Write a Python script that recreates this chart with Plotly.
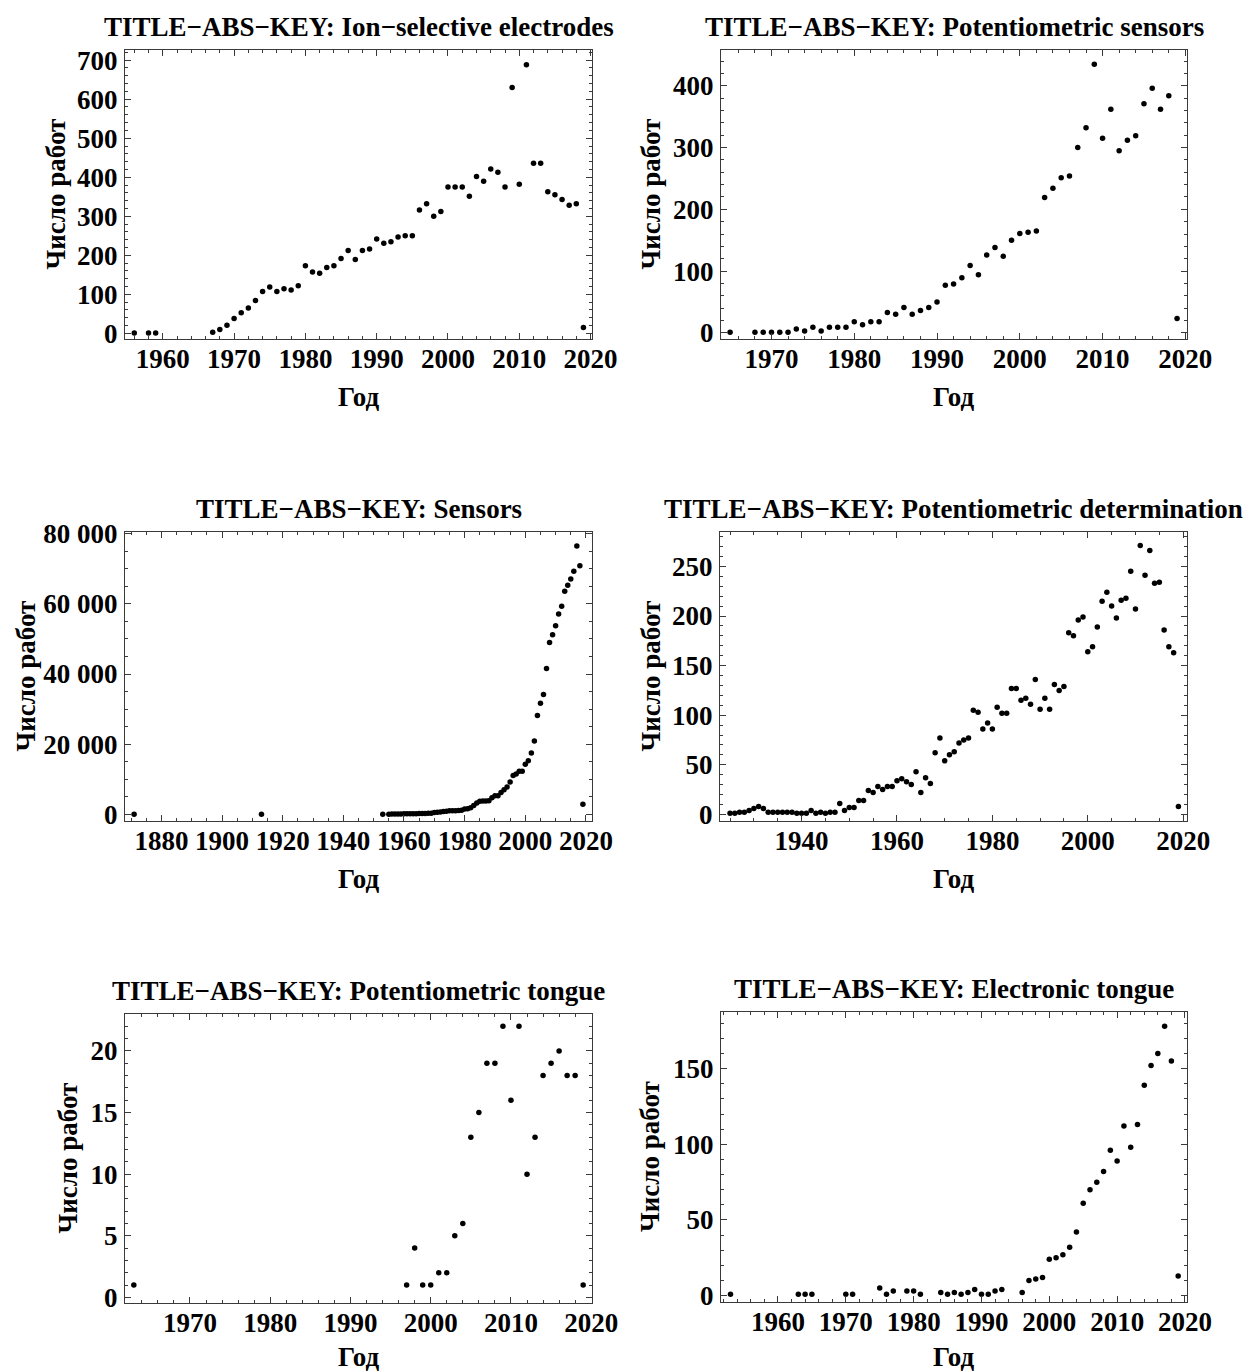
import plotly.graph_objects as go

W, H = 1246, 1371
FONT = "Liberation Serif"

# ---------------- data ----------------
ise_years = [1956, 1958, 1959] + list(range(1967, 2020))
ise_counts = [1, 1, 1,
              3, 10, 21, 38, 53, 65, 84, 107, 119, 107, 114, 111, 122,
              173, 157, 154, 169, 173, 192, 212, 189, 212, 216,
              242, 231, 235, 247, 250, 250, 316, 332, 300, 312,
              375, 375, 375, 351, 402, 390, 421, 413, 375, 630,
              382, 688, 436, 436, 363, 355, 343, 328, 332, 15]

pot_sens_years = [1965] + list(range(1968, 2020))
pot_sens_counts = [1,
                   1, 1, 1, 1, 1, 6, 3, 9, 3, 9, 9, 9,
                   18, 13, 18, 18, 33, 30, 41, 30, 36, 41,
                   50, 77, 79, 89, 109, 94, 126, 138, 124, 150,
                   161, 163, 165, 219, 234, 251, 254, 300, 332, 435,
                   315, 362, 295, 312, 319, 371, 396, 362, 384, 23]

sensors_years = [1871, 1913, 1953] + list(range(1955, 2020))
sensors_counts = [1, 1, 1,
                  60, 80, 100, 110, 130, 140, 150, 170, 180, 200,
                  220, 240, 260, 280, 320, 500, 600, 650, 800, 900,
                  1000, 1000, 1050, 1100, 1200, 1500, 1600, 1900, 2500, 3200,
                  3700, 3800, 3800, 3900, 4700, 5300, 5300, 6200, 7000, 7800,
                  9200, 11100, 11500, 12300, 12300, 14300, 15300, 17500, 20900, 28200,
                  31700, 34200, 41600, 49000, 51200, 53800, 57100, 59300, 63600, 65300,
                  67100, 69300, 76500, 70900, 2900]

pot_det_years = list(range(1925, 2020))
pot_det_counts = [1, 1, 2, 2, 4, 6, 8, 6, 2, 2,
                  2, 2, 2, 2, 1, 1, 1, 4, 1, 2,
                  1, 2, 2, 11, 4, 7, 7, 14, 14, 24,
                  22, 28, 25, 28, 28, 34, 36, 33, 30, 43,
                  22, 37, 31, 62, 77, 54, 60, 63, 72, 75,
                  77, 105, 103, 86, 92, 86, 108, 102, 102, 127,
                  127, 115, 117, 111, 136, 106, 117, 106, 131, 125,
                  129, 183, 180, 196, 199, 164, 169, 189, 215, 224,
                  210, 198, 216, 218, 245, 207, 271, 241, 266, 233,
                  234, 186, 169, 163, 8]

pot_tongue_years = [1963] + list(range(1997, 2020))
pot_tongue_counts = [1,
                     1, 4, 1, 1, 2, 2, 5, 6, 13, 15, 19, 19, 22,
                     16, 22, 10, 13, 18, 19, 20, 18, 18, 1]

el_tongue_years = [1953, 1963, 1964, 1965, 1970, 1971, 1975, 1976, 1977, 1979,
                   1980, 1981, 1984, 1985, 1986, 1987, 1988, 1989, 1990, 1991,
                   1992, 1993, 1996, 1997, 1998, 1999, 2000, 2001, 2002, 2003,
                   2004, 2005, 2006, 2007, 2008, 2009, 2010, 2011, 2012, 2013,
                   2014, 2015, 2016, 2017, 2018, 2019]
el_tongue_counts = [1, 1, 1, 1, 1, 1, 5, 1, 3, 3,
                    3, 1, 2, 1, 2, 1, 2, 4, 1, 1,
                    3, 4, 2, 10, 11, 12, 24, 25, 27, 32,
                    42, 61, 70, 75, 82, 96, 89, 112, 98, 113,
                    139, 152, 160, 178, 155, 13]

titles = ["TITLE−ABS−KEY: Ion−selective electrodes",
          "TITLE−ABS−KEY: Potentiometric sensors",
          "TITLE−ABS−KEY: Sensors",
          "TITLE−ABS−KEY: Potentiometric determination",
          "TITLE−ABS−KEY: Potentiometric tongue",
          "TITLE−ABS−KEY: Electronic tongue"]
y_title = "Число работ"
x_title = "Год"

# ---------------- layout / styling ----------------
panels = [
    dict(x=ise_years, y=ise_counts, xr=[1954.7, 2020.2], yr=[-14.5, 726],
         xd=10, xm=2, yd=100, ym=20, fr=(125, 592, 50, 339), ytx=55, xty=397, yfmt="d"),
    dict(x=pot_sens_years, y=pot_sens_counts, xr=[1963.9, 2020.2], yr=[-10, 458],
         xd=10, xm=2, yd=100, ym=20, fr=(721, 1187, 50, 339), ytx=650, xty=397, yfmt="d"),
    dict(x=sensors_years, y=sensors_counts, xr=[1868, 2022], yr=[-1900, 80500],
         xd=20, xm=5, yd=20000, ym=5000, fr=(125, 592, 532, 821), ytx=25, xty=879, yfmt=",d"),
    dict(x=pot_det_years, y=pot_det_counts, xr=[1922.9, 2020.8], yr=[-6.7, 284.7],
         xd=20, xm=5, yd=50, ym=10, fr=(720, 1187, 532, 821), ytx=650, xty=879, yfmt="d"),
    dict(x=pot_tongue_years, y=pot_tongue_counts, xr=[1961.9, 2020.1], yr=[-0.46, 23.0],
         xd=10, xm=2, yd=5, ym=1, fr=(125, 592, 1014, 1303), ytx=67, xty=1357, yfmt="d"),
    dict(x=el_tongue_years, y=el_tongue_counts, xr=[1951.6, 2020.3], yr=[-4.2, 187.4],
         xd=10, xm=2, yd=50, ym=10, fr=(721, 1187, 1012, 1302), ytx=650, xty=1357, yfmt="d"),
]

FS = 27
tickfont = dict(family=FONT, size=FS, color="black", weight="bold")
LINE = "#3a3a3a"

fig = go.Figure()
layout = dict(
    width=W, height=H, autosize=False,
    margin=dict(l=0, r=0, t=0, b=0, pad=0),
    paper_bgcolor="white", plot_bgcolor="white",
    showlegend=False,
    separators=". ",
    font=dict(family=FONT, size=FS, color="black"),
)
annotations = []

for i, p in enumerate(panels, start=1):
    xn = "x" if i == 1 else f"x{i}"
    yn = "y" if i == 1 else f"y{i}"
    xk = "xaxis" if i == 1 else f"xaxis{i}"
    yk = "yaxis" if i == 1 else f"yaxis{i}"
    l, r, t, b = p["fr"]
    fig.add_trace(go.Scatter(
        x=p["x"], y=p["y"], mode="markers", xaxis=xn, yaxis=yn,
        marker=dict(color="black", size=5.5, line=dict(width=0)),
        hoverinfo="x+y"))
    common = dict(showgrid=False, zeroline=False, showline=True, linecolor=LINE,
                  linewidth=1.3, mirror="allticks", ticks="inside", ticklen=6,
                  tickwidth=1.2, tickcolor=LINE, tickfont=tickfont, automargin=False)
    layout[xk] = dict(common, domain=[l / W, r / W], range=p["xr"], anchor=yn,
                      tick0=0, dtick=p["xd"], tickformat="d", ticklabelstandoff=-5,
                      minor=dict(ticks="inside", ticklen=3, tickwidth=1,
                                 tickcolor=LINE, dtick=p["xm"], tick0=0))
    layout[yk] = dict(common, domain=[1 - b / H, 1 - t / H], range=p["yr"], anchor=xn,
                      tick0=0, dtick=p["yd"], tickformat=p["yfmt"], ticklabelstandoff=1,
                      minor=dict(ticks="inside", ticklen=3, tickwidth=1,
                                 tickcolor=LINE, dtick=p["ym"], tick0=0))
    cx = (l + r) / 2
    cy = (t + b) / 2
    bold = dict(family=FONT, size=FS, color="black", weight="bold")
    annotations.append(dict(text=titles[i - 1], x=cx / W, y=1 - (t - 23) / H,
                            xref="paper", yref="paper", showarrow=False,
                            xanchor="center", yanchor="middle", font=bold))
    annotations.append(dict(text=x_title, x=cx / W, y=1 - p["xty"] / H,
                            xref="paper", yref="paper", showarrow=False,
                            xanchor="center", yanchor="middle", font=bold))
    annotations.append(dict(text=y_title, x=p["ytx"] / W, y=1 - cy / H,
                            xref="paper", yref="paper", showarrow=False, textangle=-90,
                            xanchor="center", yanchor="middle", font=bold))

layout["annotations"] = annotations
fig.update_layout(**layout)
fig.write_html("out.html", config={"displayModeBar": False})

# remove the browser's default body margin so the figure sits at the page origin
with open("out.html", "r", encoding="utf-8") as fh:
    html = fh.read()
html = html.replace("<body>", '<body style="margin:0;overflow:hidden">', 1)
with open("out.html", "w", encoding="utf-8") as fh:
    fh.write(html)
